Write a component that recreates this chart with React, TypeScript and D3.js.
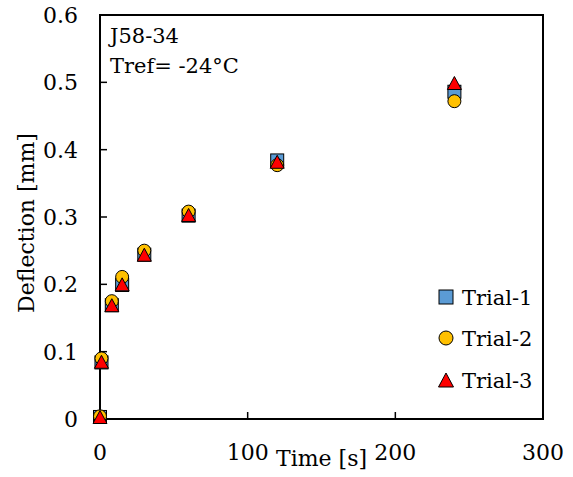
import React from "react";
import * as d3 from "d3";

// time [s]
const times = [0, 1, 8, 15, 30, 60, 120, 240];
// deflection [mm] for each trial
const trial1 = [0.003, 0.084, 0.169, 0.199, 0.244, 0.302, 0.384, 0.486];
const trial2 = [0.004, 0.09, 0.175, 0.211, 0.25, 0.308, 0.377, 0.472];
const trial3 = [0.003, 0.085, 0.169, 0.2, 0.244, 0.303, 0.382, 0.499];

const seriesNames = ["Trial-1", "Trial-2", "Trial-3"];
const xTicks = [0, 100, 200, 300];
const yTicks = [0, 0.1, 0.2, 0.3, 0.4, 0.5, 0.6];
const notes = ["J58-34", "Tref= -24°C"];

const W = 573;
const H = 477;
const margin = { top: 15, right: 30, bottom: 58, left: 100 };
const font = "'DejaVu Serif', serif";

const colors = ["#5B9BD5", "#FFC000", "#FF0000"];

function Marker({ kind, cx, cy, s }: { kind: number; cx: number; cy: number; s: number }) {
  const h = s / 2;
  if (kind === 0)
    return <rect x={cx - h} y={cy - h} width={s} height={s} fill={colors[0]} stroke="#000" strokeWidth={1} />;
  if (kind === 1)
    return <circle cx={cx} cy={cy} r={h} fill={colors[1]} stroke="#000" strokeWidth={1} />;
  const p = `M${cx},${cy - h}L${cx + h + 0.5},${cy + h}L${cx - h - 0.5},${cy + h}Z`;
  return <path d={p} fill={colors[2]} stroke="#000" strokeWidth={1} />;
}

export default function App() {
  const innerW = W - margin.left - margin.right;
  const innerH = H - margin.top - margin.bottom;
  const x = d3.scaleLinear().domain([0, 300]).range([margin.left, margin.left + innerW]);
  const y = d3.scaleLinear().domain([0, 0.6]).range([margin.top + innerH, margin.top]);
  const series = [trial1, trial2, trial3];
  const legendY = [297, 338, 380];

  return (
    <svg width={W} height={H} style={{ position: "absolute", left: 0, top: 0, background: "#fff", fontFamily: font }}>
      <rect x={0} y={0} width={W} height={H} fill="#fff" />
      {/* frame */}
      <rect x={x(0)} y={y(0.6)} width={x(300) - x(0)} height={y(0) - y(0.6)} fill="none" stroke="#000" strokeWidth={2} />
      {/* y ticks */}
      {yTicks.map((t) => (
        <g key={"y" + t}>
          <line x1={x(0)} x2={x(0) + 7} y1={y(t)} y2={y(t)} stroke="#000" strokeWidth={1.5} />
          <text x={x(0) - 22} y={y(t)} dy="0.36em" textAnchor="end" fontSize={22}>
            {d3.format("")(t)}
          </text>
        </g>
      ))}
      {/* x ticks */}
      {xTicks.map((t) => (
        <g key={"x" + t}>
          <line x1={x(t)} x2={x(t)} y1={y(0)} y2={y(0) - 7} stroke="#000" strokeWidth={1.5} />
          <text x={x(t)} y={460} textAnchor="middle" fontSize={22}>
            {t}
          </text>
        </g>
      ))}
      <text x={x(150)} y={466} textAnchor="middle" fontSize={22}>
        Time [s]
      </text>
      <text transform={`translate(34,223) rotate(-90)`} textAnchor="middle" fontSize={22}>
        Deflection [mm]
      </text>
      {/* annotation */}
      {notes.map((n, i) => (
        <text key={n} x={110} y={43 + i * 30} fontSize={21}>
          {n}
        </text>
      ))}
      {/* data */}
      {series.map((vals, k) => (
        <g key={"s" + k}>
          {vals.map((v, i) => (
            <Marker key={i} kind={k} cx={x(times[i])} cy={y(v)} s={13} />
          ))}
        </g>
      ))}
      {/* legend */}
      {seriesNames.map((n, k) => (
        <g key={n}>
          <Marker kind={k} cx={446} cy={legendY[k]} s={14} />
          <text x={462} y={legendY[k] + 8} fontSize={21}>
            {n}
          </text>
        </g>
      ))}
    </svg>
  );
}
